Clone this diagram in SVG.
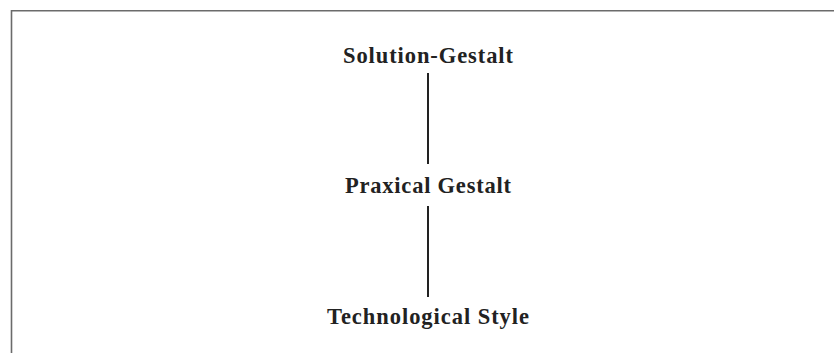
<svg xmlns="http://www.w3.org/2000/svg" width="834" height="353" viewBox="0 0 834 353">
  <style>
    .frame { fill: none; stroke: #6b6b6b; stroke-width: 1.6; }
    .label { font-family: "Liberation Serif", "Times New Roman", serif; font-weight: bold; font-size: 22.5px; fill: #222; text-anchor: middle; }
    .link { stroke: #222; stroke-width: 2; }
  </style>
  <rect width="834" height="353" fill="#fff"/>
  <path class="frame" d="M11.5 360 V10.8 H840"/>
  <g id="connectors">
    <line class="link" x1="428" y1="73" x2="428" y2="164"/>
    <line class="link" x1="428" y1="206" x2="428" y2="297"/>
  </g>
  <g id="solution-gestalt">
    <text class="label" x="428" y="63" textLength="170" lengthAdjust="spacing">Solution-Gestalt</text>
  </g>
  <g id="praxical-gestalt">
    <text class="label" x="428" y="193" textLength="166" lengthAdjust="spacing">Praxical Gestalt</text>
  </g>
  <g id="technological-style">
    <text class="label" x="428" y="324" textLength="202" lengthAdjust="spacing">Technological Style</text>
  </g>
</svg>
